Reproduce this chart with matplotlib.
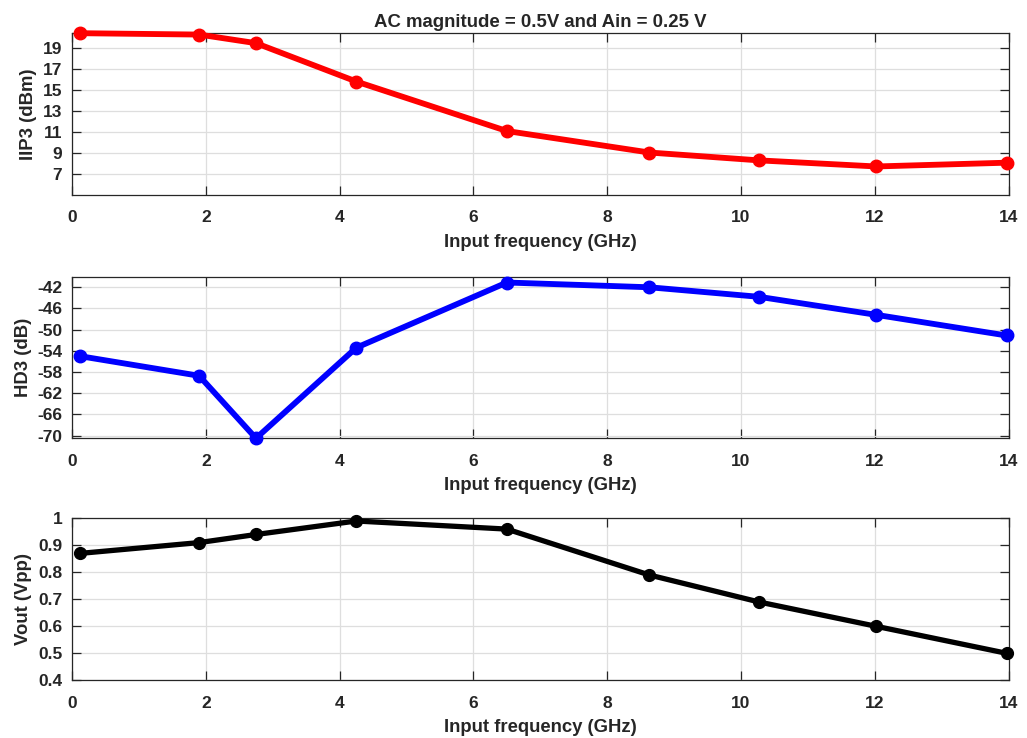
import matplotlib
matplotlib.use("Agg")
import matplotlib.pyplot as plt

plt.rcParams['font.family'] = ['Liberation Sans', 'DejaVu Sans']
plt.rcParams['font.weight'] = 'bold'
plt.rcParams['axes.unicode_minus'] = False

freq_ghz = [0.12, 1.9, 2.75, 4.25, 6.5, 8.63, 10.27, 12.02, 13.97]
iip3_dbm = [20.43, 20.3, 19.48, 15.82, 11.1, 9.05, 8.3, 7.72, 8.08]
hd3_db = [-55.0, -58.7, -70.5, -53.4, -41.1, -42.0, -43.8, -47.2, -51.1]
vout_vpp = [0.87, 0.91, 0.94, 0.99, 0.96, 0.79, 0.69, 0.60, 0.50]

x_ticks = [0, 2, 4, 6, 8, 10, 12, 14]
iip3_ticks = [7, 9, 11, 13, 15, 17, 19]
hd3_ticks = [-70, -66, -62, -58, -54, -50, -46, -42]
vout_ticks = [0.4, 0.5, 0.6, 0.7, 0.8, 0.9, 1.0]
vout_labels = ['0.4', '0.5', '0.6', '0.7', '0.8', '0.9', '1']

title_text = 'AC magnitude = 0.5V and Ain = 0.25 V'
x_label = 'Input frequency (GHz)'

ink = '#262626'
fig = plt.figure(figsize=(10.27, 7.38), dpi=100)

panels = [
    dict(rect=[0.0701, 0.7358, 0.912, 0.2195], y=iip3_dbm, color='#ff0000',
         ylabel='IIP3 (dBm)', ylim=(5, 20.45), yticks=iip3_ticks, ylabels=None, lw=4.2, ms=9),
    dict(rect=[0.0701, 0.4061, 0.912, 0.2190], y=hd3_db, color='#0000ff',
         ylabel='HD3 (dB)', ylim=(-70.5, -40), yticks=hd3_ticks, ylabels=None, lw=4.2, ms=9),
    dict(rect=[0.0701, 0.0782, 0.912, 0.2195], y=vout_vpp, color='#000000',
         ylabel='Vout (Vpp)', ylim=(0.4, 1.0), yticks=vout_ticks, ylabels=vout_labels, lw=3.8, ms=8.5),
]

for i, p in enumerate(panels):
    ax = fig.add_axes(p['rect'])
    ax.plot(freq_ghz, p['y'], '-o', color=p['color'], lw=p['lw'], ms=p['ms'],
            clip_on=False, zorder=5)
    ax.set_xlim(0, 14)
    ax.set_ylim(*p['ylim'])
    ax.set_xticks(x_ticks)
    ax.set_yticks(p['yticks'])
    if p['ylabels'] is not None:
        ax.set_yticklabels(p['ylabels'])
    ax.grid(True, color='#dedede', lw=0.9)
    ax.set_axisbelow(True)
    ax.tick_params(direction='in', length=6.5, width=0.9, color=ink, labelcolor=ink,
                   labelsize=12.5, top=True, right=True)
    ax.tick_params(axis='x', pad=11)
    ax.tick_params(axis='y', pad=7)
    for s in ax.spines.values():
        s.set_color(ink)
        s.set_linewidth(0.9)
    ax.set_xlabel(x_label, fontsize=13.3, fontweight='bold', color=ink, labelpad=6)
    ax.set_ylabel(p['ylabel'], fontsize=13.3, fontweight='bold', color=ink, labelpad=4)
    if i == 0:
        ax.set_title(title_text, fontsize=13.4, fontweight='bold', color=ink, pad=4)

fig.savefig('out.png', dpi=100)
